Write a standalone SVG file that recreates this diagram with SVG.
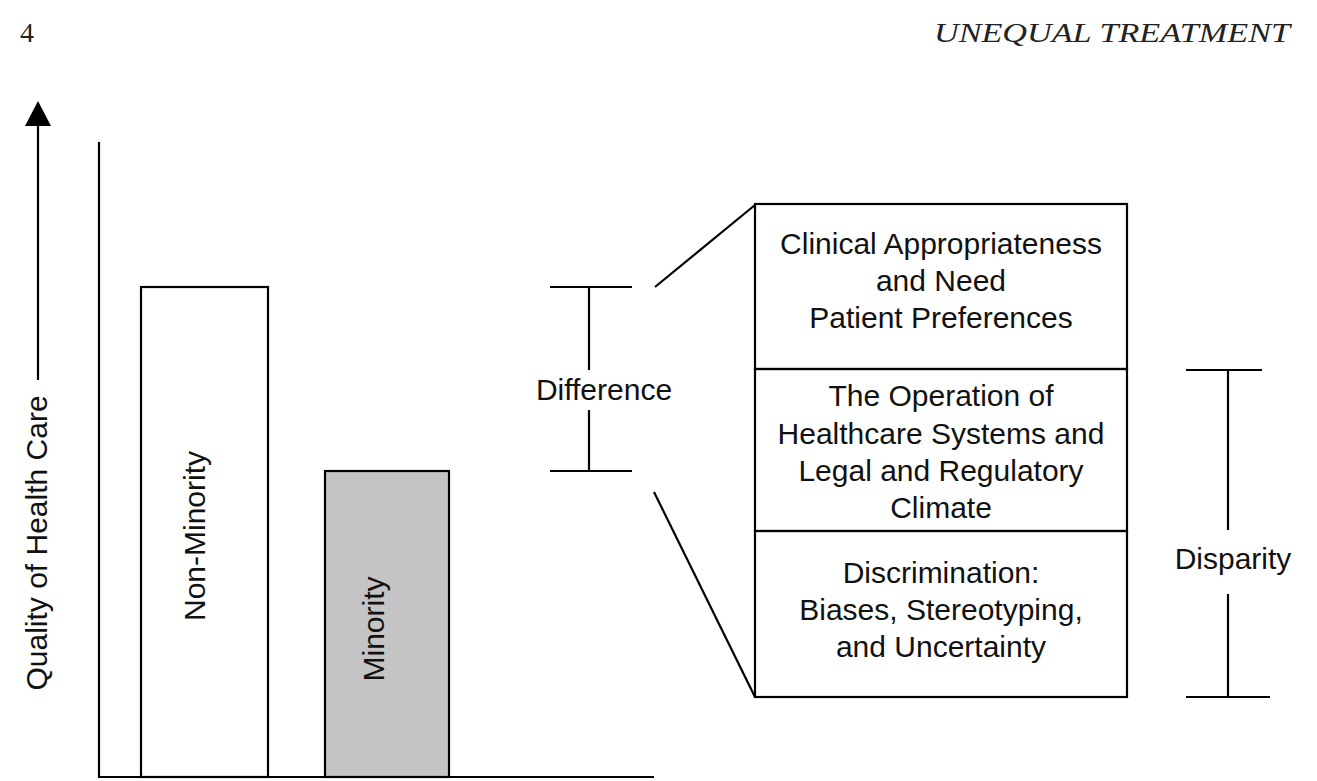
<svg xmlns="http://www.w3.org/2000/svg" width="1317" height="781" viewBox="0 0 1317 781">
<style>
.ln{stroke:#000;stroke-width:2.2;fill:none}
.t{font-family:"Liberation Sans",Arial,sans-serif;font-size:30px;fill:#111;text-anchor:middle}
.hd{font-family:"Liberation Serif","Times New Roman",serif;fill:#222}
</style>
<rect width="1317" height="781" fill="#fff"/>
<g id="header">
<text class="hd" x="20" y="42" font-size="28">4</text>
<text class="hd" x="934" y="42" font-size="27" font-style="italic" textLength="356" lengthAdjust="spacingAndGlyphs">UNEQUAL TREATMENT</text>
</g>
<g id="y-axis-label">
<polygon points="38,101 25,126 51,126" fill="#000"/>
<line class="ln" x1="38" y1="124" x2="38" y2="380"/>
<text class="t" transform="translate(47,543) rotate(-90)">Quality of Health Care</text>
</g>
<g id="axes">
<polyline class="ln" points="99,142 99,777 654,777"/>
</g>
<g id="bar-nonminority">
<rect class="ln" x="141" y="287" width="127" height="490" fill="#fff"/>
<text class="t" transform="translate(205,536) rotate(-90)">Non-Minority</text>
</g>
<g id="bar-minority">
<rect x="325" y="471" width="124" height="306" fill="#c4c4c4" stroke="#000" stroke-width="2.2"/>
<text class="t" transform="translate(384,629) rotate(-90)">Minority</text>
</g>
<g id="difference">
<line class="ln" x1="550" y1="287" x2="632" y2="287"/>
<line class="ln" x1="550" y1="471" x2="632" y2="471"/>
<line class="ln" x1="589" y1="287" x2="589" y2="370"/>
<line class="ln" x1="589" y1="410" x2="589" y2="471"/>
<text class="t" x="604" y="400">Difference</text>
</g>
<g id="connectors">
<line class="ln" x1="655" y1="287" x2="755" y2="205"/>
<line class="ln" x1="654" y1="492" x2="755" y2="697"/>
</g>
<g id="box-clinical">
<rect class="ln" x="755" y="204" width="372" height="165"/>
<text class="t" x="941" y="254">Clinical Appropriateness</text>
<text class="t" x="941" y="291">and Need</text>
<text class="t" x="941" y="328">Patient Preferences</text>
</g>
<g id="box-operation">
<rect class="ln" x="755" y="369" width="372" height="162"/>
<text class="t" x="941" y="406">The Operation of</text>
<text class="t" x="941" y="444">Healthcare Systems and</text>
<text class="t" x="941" y="481">Legal and Regulatory</text>
<text class="t" x="941" y="518">Climate</text>
</g>
<g id="box-discrimination">
<rect class="ln" x="755" y="531" width="372" height="166"/>
<text class="t" x="941" y="583">Discrimination:</text>
<text class="t" x="941" y="620">Biases, Stereotyping,</text>
<text class="t" x="941" y="657">and Uncertainty</text>
</g>
<g id="disparity">
<line class="ln" x1="1186" y1="370" x2="1262" y2="370"/>
<line class="ln" x1="1186" y1="697" x2="1270" y2="697"/>
<line class="ln" x1="1228" y1="370" x2="1228" y2="530"/>
<line class="ln" x1="1228" y1="594" x2="1228" y2="697"/>
<text class="t" x="1233" y="569">Disparity</text>
</g>
</svg>
